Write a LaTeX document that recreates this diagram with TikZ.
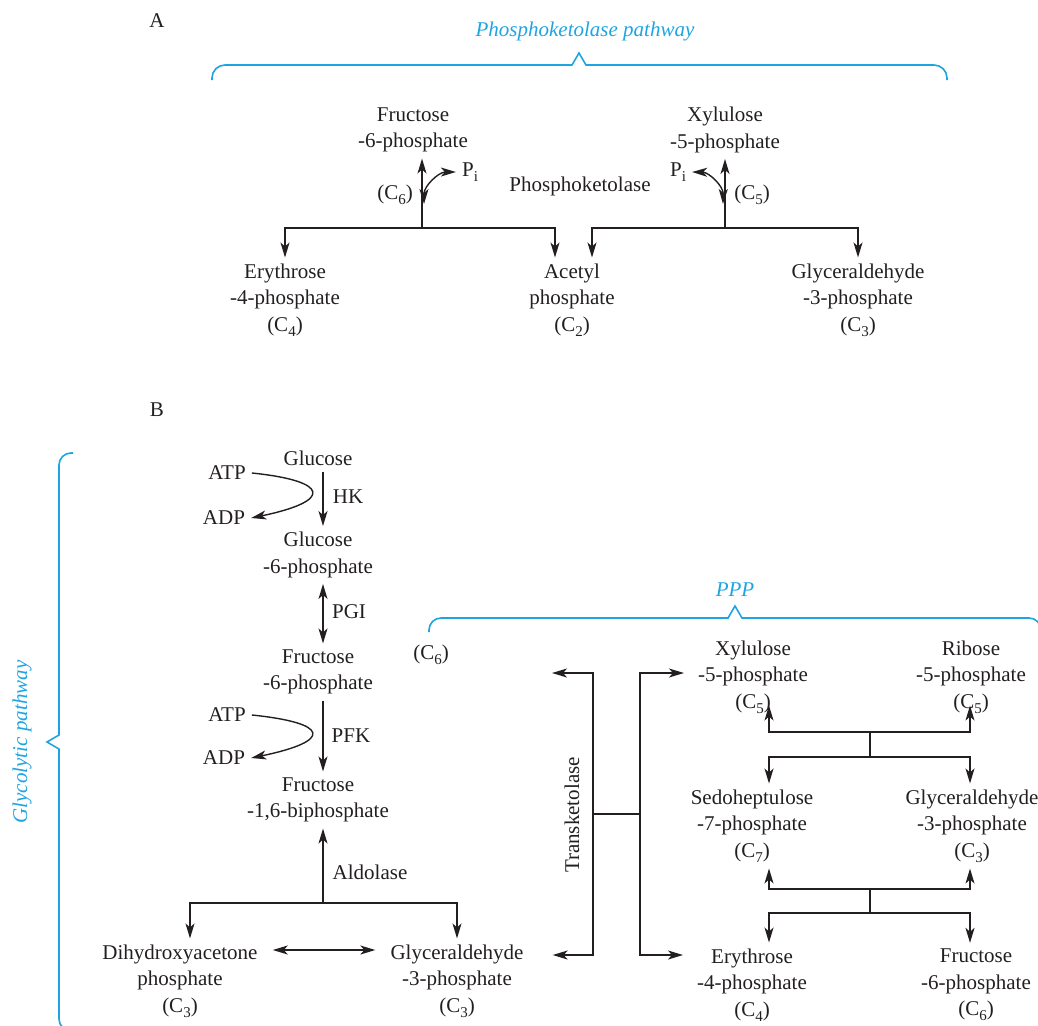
\documentclass[tikz,border=0pt]{standalone}
\usepackage{fontspec}
\setmainfont{Liberation Serif}
\usepackage{xcolor}
\usetikzlibrary{arrows.meta,calc}
\definecolor{pathblue}{RGB}{30,165,225}
\definecolor{ink}{RGB}{35,31,32}
\newcommand{\csub}[1]{\raisebox{-5pt}{\fontsize{15}{15}\selectfont #1}}

\begin{document}
\begin{tikzpicture}[x=1pt,y=1pt,
  font=\fontsize{21}{26.5}\selectfont,
  met/.style={align=center,inner sep=6pt,text=ink},
  tag/.style={inner sep=2pt,text=ink},
  flow/.style={draw=ink,line width=1.4pt,-{Stealth[length=15pt,width=9pt,inset=4pt]}},
  flowboth/.style={draw=ink,line width=1.4pt,{Stealth[length=15pt,width=9pt,inset=4pt]}-{Stealth[length=15pt,width=9pt,inset=4pt]}},
  bar/.style={draw=ink,line width=1.4pt},
  brace/.style={draw=pathblue,line width=1.6pt},
  pathname/.style={text=pathblue,font=\fontsize{21}{26.5}\selectfont\itshape}]
\useasboundingbox (0,0) rectangle (1038,-1025);

\node[tag] (A) at (157,-21) {A};
\node[pathname] (pkname) at (585,-31) {Phosphoketolase pathway};
\draw[brace] (212,-80) [rounded corners=13pt] |- (400,-65) [sharp corners] -- (572,-65) -- (579,-53) -- (586,-65) -- (800,-65) [rounded corners=13pt] -| (947,-80);

\node[met] (f6p) at (413,-130) {Fructose\\-6-phosphate};
\node[met] (x5p) at (725,-130) {Xylulose\\-5-phosphate};
\node[met] (e4p) at (285,-300) {Erythrose\\-4-phosphate\\(C\csub{4})};
\node[met] (acp) at (572,-300) {Acetyl\\phosphate\\(C\csub{2})};
\node[met] (g3pA) at (858,-300) {Glyceraldehyde\\-3-phosphate\\(C\csub{3})};
\node[tag] (c6A) at (395,-195) {(C\csub{6})};
\node[tag] (c5A) at (752,-195) {(C\csub{5})};
\node[met] (pil) at (470,-172) {P\csub{i}};
\node[met] (pir) at (678,-172) {P\csub{i}};
\node[tag] (pkase) at (580,-186) {Phosphoketolase};

\coordinate (jA1) at (422,-228);
\coordinate (jA2) at (725,-228);
\draw[flow] (jA1) -- (jA1 |- f6p.south);
\draw[flow] (jA1) -| (e4p.north);
\draw[flow] (jA1) -| ([xshift=-17pt]acp.north);
\draw[flow] (jA2) -- (jA2 |- x5p.south);
\draw[flow] (jA2) -| ([xshift=20pt]acp.north);
\draw[flow] (jA2) -| (g3pA.north);
\coordinate (cl) at (424,-204);
\coordinate (cr) at (723,-204);
\draw[flowboth] (pil.west) to[bend right=45] (cl);
\draw[flowboth] (pir.east) to[bend left=45] (cr);

\node[tag] (B) at (157,-410) {B};
\node[pathname,rotate=90] (glyname) at (22,-742) {Glycolytic pathway};
\draw[brace] (73,-453) [rounded corners=12pt] -| (59,-600) [sharp corners] -- (59,-735) -- (47,-742) -- (59,-749) -- (59,-900) [rounded corners=12pt] |- (73,-1031);

\node[met] (glc) at (318,-458) {Glucose};
\node[met] (g6p) at (318,-555) {Glucose\\-6-phosphate};
\node[met] (f6pB) at (318,-672) {Fructose\\-6-phosphate};
\node[met] (fbp) at (318,-800) {Fructose\\-1,6-biphosphate};
\node[met] (dhap) at (180,-981) {Dihydroxyacetone\\phosphate\\(C\csub{3})};
\node[met] (g3pB) at (457,-981) {Glyceraldehyde\\-3-phosphate\\(C\csub{3})};
\node[met] (atp1) at (227,-473) {ATP};
\node[met] (adp1) at (224,-518) {ADP};
\node[met] (atp2) at (227,-715) {ATP};
\node[met] (adp2) at (224,-758) {ADP};
\node[tag] (hk) at (348,-497) {HK};
\node[tag] (pgi) at (349,-612) {PGI};
\node[tag] (pfk) at (351,-736) {PFK};
\node[tag] (aldo) at (370,-872) {Aldolase};

\draw[flow] ([xshift=5pt]glc.south) -- ([xshift=5pt]g6p.north);
\draw[flowboth] ([xshift=5pt]g6p.south) -- ([xshift=5pt]f6pB.north);
\draw[flow] ([xshift=5pt]f6pB.south) -- ([xshift=5pt]fbp.north);
\draw[flow] (atp1.east) .. controls +(78,-8) and +(82,17) .. (adp1.east);
\draw[flow] (atp2.east) .. controls +(78,-8) and +(82,17) .. (adp2.east);
\coordinate (jB) at (323,-903);
\draw[flow] (jB) -- (jB |- fbp.south);
\draw[flow] (jB) -| ([xshift=10pt]dhap.north);
\draw[flow] (jB) -| (g3pB.north);
\coordinate (iso) at (0,-950);
\draw[flowboth] ($(dhap.east |- iso)+(9,0)$) -- ($(g3pB.west |- iso)+(-9,0)$);

\node[pathname] (pppname) at (735,-590) {PPP};
\draw[brace] (429,-632) [rounded corners=12pt] |- (600,-618) [sharp corners] -- (728,-618) -- (735,-606) -- (742,-618) -- (900,-618) [rounded corners=12pt] -| (1041,-632);
\node[tag] (c6B) at (431,-655) {(C\csub{6})};

\node[met] (x5pB) at (753,-677) {Xylulose\\-5-phosphate\\(C\csub{5})};
\node[met] (r5p) at (971,-677) {Ribose\\-5-phosphate\\(C\csub{5})};
\node[met] (s7p) at (752,-826) {Sedoheptulose\\-7-phosphate\\(C\csub{7})};
\node[met] (g3pC) at (972,-826) {Glyceraldehyde\\-3-phosphate\\(C\csub{3})};
\node[met] (e4pB) at (752,-985) {Erythrose\\-4-phosphate\\(C\csub{4})};
\node[met] (f6pC) at (976,-985) {Fructose\\-6-phosphate\\(C\csub{6})};
\node[tag,rotate=90] (tkname) at (572,-815) {Transketolase};

\coordinate (tkL) at (593,-814);
\coordinate (tkR) at (640,-814);
\coordinate (tkTL) at (552,-673);
\draw[bar] (tkL) -- (tkR);
\draw[flow] (tkL) |- (tkTL);
\draw[flow] (tkL) |- ($(g3pB.east |- iso)+(23,-5)$);
\draw[flow] (tkR) |- ([xshift=-8pt,yshift=4pt]x5pB.west);
\draw[flow] (tkR) |- ($(e4pB.west |- iso)+(-8,-5)$);

\coordinate (u1) at (870,-732);
\coordinate (u2) at (870,-757);
\draw[bar] (u1) -- (u2);
\draw[flow] (u1) -| ([xshift=16pt,yshift=14pt]x5pB.south);
\draw[flow] (u1) -| ([xshift=-1pt,yshift=14pt]r5p.south);
\draw[flow] (u2) -| ([xshift=17pt]s7p.north);
\draw[flow] (u2) -| ([xshift=-2pt]g3pC.north);
\coordinate (l1) at (870,-889);
\coordinate (l2) at (870,-913);
\draw[bar] (l1) -- (l2);
\draw[flow] (l1) -| ([xshift=17pt]s7p.south);
\draw[flow] (l1) -| ([xshift=-2pt]g3pC.south);
\draw[flow] (l2) -| ([xshift=17pt]e4pB.north);
\draw[flow] (l2) -| ([xshift=-6pt]f6pC.north);
\end{tikzpicture}
\end{document}
